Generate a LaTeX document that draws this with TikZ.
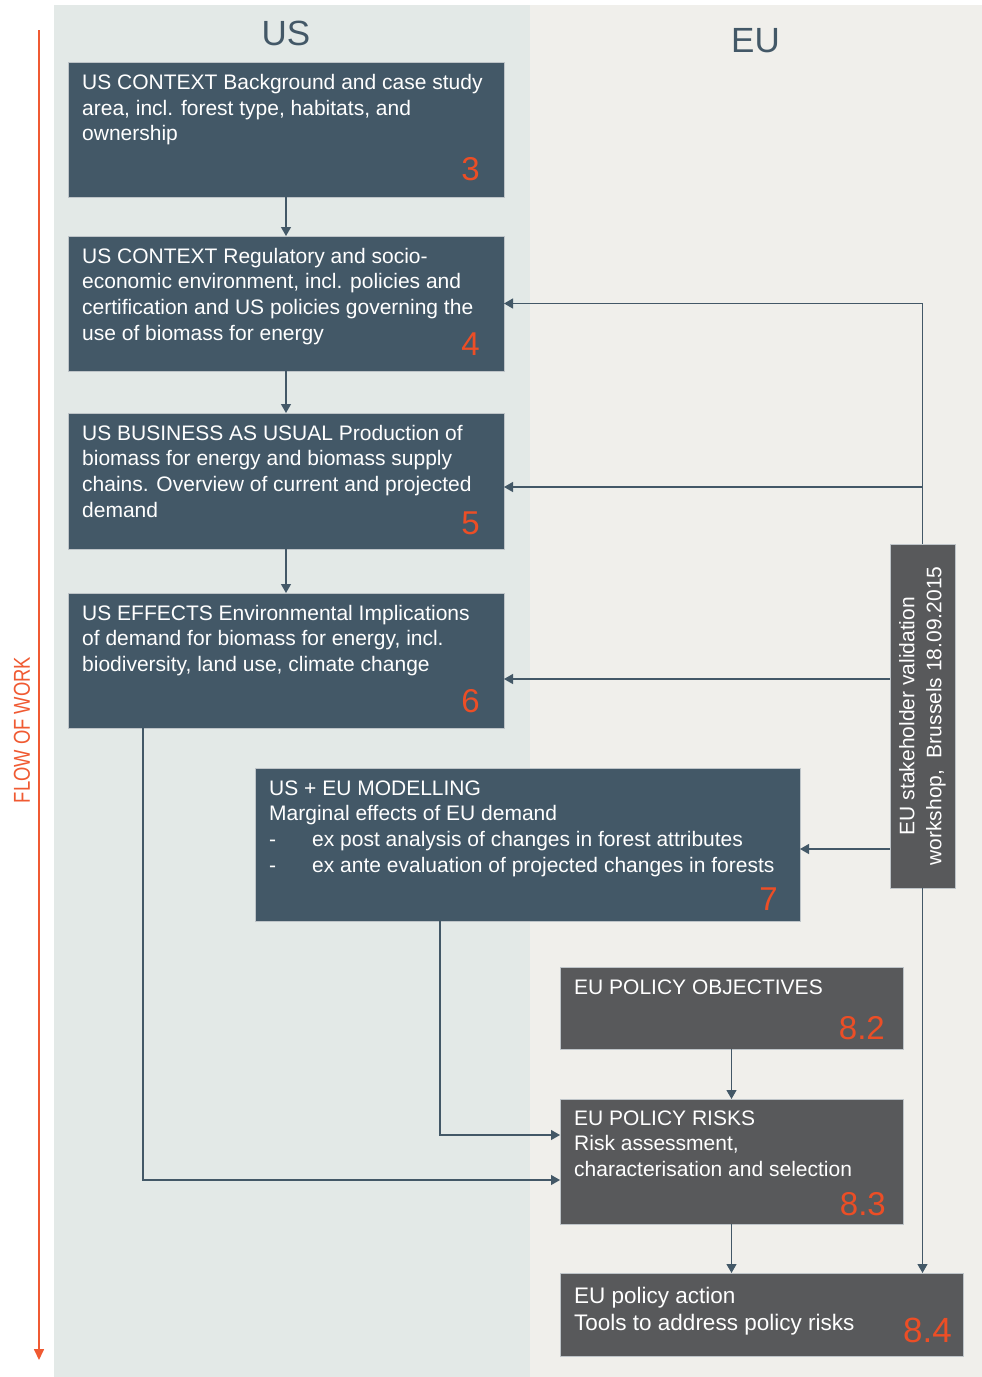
\documentclass[tikz,border=0pt]{standalone}
\usepackage{fontspec}
\setmainfont{Liberation Sans}
\usetikzlibrary{arrows.meta,calc}
\definecolor{slate}{RGB}{67,88,103}
\definecolor{greybox}{RGB}{88,89,91}
\definecolor{numorange}{RGB}{236,78,38}
\definecolor{floworange}{RGB}{240,90,50}
\definecolor{usbg}{RGB}{227,233,231}
\definecolor{eubg}{RGB}{240,239,235}
\definecolor{edgegrey}{RGB}{190,196,200}
\newcommand\mylines[1]{\parbox[t]{620pt}{\raggedright #1}}
\begin{document}
\begin{tikzpicture}[x=1pt,y=-1pt,
  box/.style={draw=edgegrey, line width=0.6pt, anchor=north west, inner sep=0pt, outer sep=0pt},
  usbox/.style={box, fill=slate},
  eubox/.style={box, fill=greybox},
  boxtext/.style={anchor=base west, inner sep=0pt, text=white, font=\fontsize{21}{25.7}\selectfont},
  num/.style={anchor=base east, inner sep=0pt, text=numorange, font=\fontsize{33}{33}\selectfont},
  conn/.style={draw=slate, line width=1.2pt, -{Triangle[length=9pt,width=10pt]}},
  title/.style={anchor=base, inner sep=0pt, text=slate, font=\fontsize{35}{35}\selectfont}
]
\useasboundingbox (0,0) rectangle (982,1377);
\fill[white] (0,0) rectangle (982,1377);
\fill[usbg] (54,5) rectangle (530,1377);
\fill[eubg] (530,5) rectangle (982,1377);

% titles
\node[title] (ustitle) at (286,45) {US};
\node[title] (eutitle) at (755.5,52) {EU};

% flow of work
\coordinate (flowtop) at (39,30);
\coordinate (flowend) at (39,1360);
\draw[floworange, line width=1.6pt, -{Triangle[length=11pt,width=10pt]}] (flowtop) -- (flowend);
\node[rotate=90, inner sep=0pt, text=floworange, font=\fontsize{23}{23}\selectfont] (flow) at (22,730) {\scalebox{0.8}[1]{FLOW OF WORK}};

% boxes
\node[usbox, minimum width=436pt, minimum height=135pt] (b3) at (68,62) {};
\node[usbox, minimum width=436pt, minimum height=135pt] (b4) at (68,236) {};
\node[usbox, minimum width=436pt, minimum height=136pt] (b5) at (68,413) {};
\node[usbox, minimum width=436pt, minimum height=135pt] (b6) at (68,593) {};
\node[usbox, minimum width=545pt, minimum height=153pt] (b7) at (255,768) {};
\node[eubox, minimum width=343pt, minimum height=82pt] (b82) at (560,967) {};
\node[eubox, minimum width=343pt, minimum height=125pt] (b83) at (560,1099) {};
\node[eubox, minimum width=403pt, minimum height=83pt] (b84) at (560,1273) {};
\node[eubox, minimum width=65pt, minimum height=344pt] (sh) at (890,544) {};

% box texts
\node[boxtext] (t3) at (82,89.5) {\mylines{US CONTEXT Background and case study\\area, incl. forest type, habitats, and\\ownership}};
\node[boxtext] (t4) at (82,263) {\mylines{US CONTEXT Regulatory and socio-\\economic environment, incl. policies and\\certification and US policies governing the\\use of biomass for energy}};
\node[boxtext] (t5) at (82,440) {\mylines{US BUSINESS AS USUAL Production of\\biomass for energy and biomass supply\\chains. Overview of current and projected\\demand}};
\node[boxtext] (t6) at (82,620) {\mylines{US EFFECTS Environmental Implications\\of demand for biomass for energy, incl.\\biodiversity, land use, climate change}};
\node[boxtext] (t7) at (269,795) {\mylines{US + EU MODELLING\\Marginal effects of EU demand\\\makebox[43pt][l]{-}ex post analysis of changes in forest attributes\\\makebox[43pt][l]{-}ex ante evaluation of projected changes in forests}};
\node[boxtext] (t82) at (574,994) {\mylines{EU POLICY OBJECTIVES}};
\node[boxtext] (t83) at (574,1125) {\mylines{EU POLICY RISKS\\Risk assessment,\\characterisation and selection}};
\node[boxtext, font=\fontsize{22.5}{27}\selectfont] (t84) at (574,1303) {\mylines{EU policy action\\Tools to address policy risks}};
\node[rotate=90, inner sep=0pt, text=white, align=center, font=\fontsize{21}{27}\selectfont] (sht) at (sh.center) {EU stakeholder validation\\workshop,~ Brussels 18.09.2015};

% numbers
\node[num] (n3) at (480,180) {3};
\node[num] (n4) at (480,355) {4};
\node[num] (n5) at (480,534) {5};
\node[num] (n6) at (480,712) {6};
\node[num] (n7) at (778,910) {7};
\node[num] (n82) at (885,1039) {8.2};
\node[num] (n83) at (886,1215) {8.3};
\node[num, font=\fontsize{35}{35}\selectfont] (n84) at (952,1342) {8.4};

% connectors
\draw[conn] (b3.south) -- (b4.north);
\draw[conn] (b4.south) -- (b5.north);
\draw[conn] (b5.south) -- (b6.north);
\draw[conn] (sh.north) |- (b4.east);
\coordinate (b5in) at ([yshift=-6pt]b5.east);
\draw[conn] (sh.north |- b5in) -- (b5in);
\coordinate (b6in) at ([yshift=-18.5pt]b6.east);
\draw[conn] (sh.west |- b6in) -- (b6in);
\coordinate (b7in) at ([yshift=-4.5pt]b7.east);
\draw[conn] (sh.west |- b7in) -- (b7in);
\coordinate (b6out) at ([xshift=75pt]b6.south west);
\coordinate (b83inA) at ([yshift=-18.5pt]b83.west);
\draw[conn] (b6out) |- (b83inA);
\coordinate (b7out) at ([xshift=185pt]b7.south west);
\coordinate (b83inB) at ([yshift=26.5pt]b83.west);
\draw[conn] (b7out) |- (b83inB);
\draw[conn] (b82.south) -- (b83.north);
\draw[conn] (b83.south) -- (b83.south |- b84.north);
\draw[conn] (sh.south) -- (sh.south |- b84.north);
\end{tikzpicture}
\end{document}
